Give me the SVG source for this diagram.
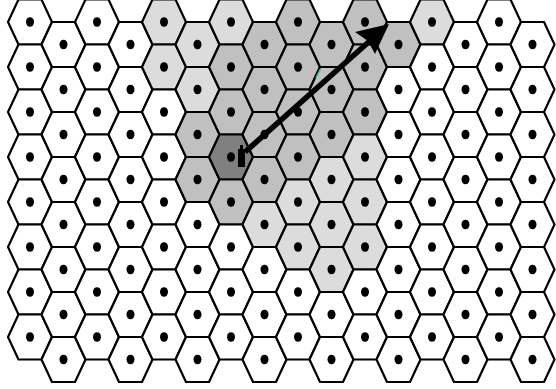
<svg xmlns="http://www.w3.org/2000/svg" xmlns:xlink="http://www.w3.org/1999/xlink" width="556" height="389" viewBox="0 0 556 389">
<style>
.w{fill:#ffffff}.l{fill:#dcdcdc}.m{fill:#c0c0c0}.d{fill:#808080}
</style>
<defs>
<polygon id="hx" points="-22,0 -11.5,-22.5 11.5,-22.5 22,0 11.5,22.5 -11.5,22.5" stroke="#000" stroke-width="2.2" stroke-linejoin="round"/>
<ellipse id="dt" rx="4" ry="4.8" fill="#000"/>
</defs>
<rect width="556" height="389" fill="#fff"/>
<g id="cells">
<g id="c0r0" class="w" transform="translate(30,22)"><use href="#hx"/><use href="#dt"/></g>
<g id="c0r1" class="w" transform="translate(30,67)"><use href="#hx"/><use href="#dt"/></g>
<g id="c0r2" class="w" transform="translate(30,112)"><use href="#hx"/><use href="#dt"/></g>
<g id="c0r3" class="w" transform="translate(30,157)"><use href="#hx"/><use href="#dt"/></g>
<g id="c0r4" class="w" transform="translate(30,202)"><use href="#hx"/><use href="#dt"/></g>
<g id="c0r5" class="w" transform="translate(30,247)"><use href="#hx"/><use href="#dt"/></g>
<g id="c0r6" class="w" transform="translate(30,292)"><use href="#hx"/><use href="#dt"/></g>
<g id="c0r7" class="w" transform="translate(30,337)"><use href="#hx"/><use href="#dt"/></g>
<g id="c1r0" class="w" transform="translate(63.5,44.5)"><use href="#hx"/><use href="#dt"/></g>
<g id="c1r1" class="w" transform="translate(63.5,89.5)"><use href="#hx"/><use href="#dt"/></g>
<g id="c1r2" class="w" transform="translate(63.5,134.5)"><use href="#hx"/><use href="#dt"/></g>
<g id="c1r3" class="w" transform="translate(63.5,179.5)"><use href="#hx"/><use href="#dt"/></g>
<g id="c1r4" class="w" transform="translate(63.5,224.5)"><use href="#hx"/><use href="#dt"/></g>
<g id="c1r5" class="w" transform="translate(63.5,269.5)"><use href="#hx"/><use href="#dt"/></g>
<g id="c1r6" class="w" transform="translate(63.5,314.5)"><use href="#hx"/><use href="#dt"/></g>
<g id="c1r7" class="w" transform="translate(63.5,359.5)"><use href="#hx"/><use href="#dt"/></g>
<g id="c2r0" class="w" transform="translate(97,22)"><use href="#hx"/><use href="#dt"/></g>
<g id="c2r1" class="w" transform="translate(97,67)"><use href="#hx"/><use href="#dt"/></g>
<g id="c2r2" class="w" transform="translate(97,112)"><use href="#hx"/><use href="#dt"/></g>
<g id="c2r3" class="w" transform="translate(97,157)"><use href="#hx"/><use href="#dt"/></g>
<g id="c2r4" class="w" transform="translate(97,202)"><use href="#hx"/><use href="#dt"/></g>
<g id="c2r5" class="w" transform="translate(97,247)"><use href="#hx"/><use href="#dt"/></g>
<g id="c2r6" class="w" transform="translate(97,292)"><use href="#hx"/><use href="#dt"/></g>
<g id="c2r7" class="w" transform="translate(97,337)"><use href="#hx"/><use href="#dt"/></g>
<g id="c3r0" class="w" transform="translate(130.5,44.5)"><use href="#hx"/><use href="#dt"/></g>
<g id="c3r1" class="w" transform="translate(130.5,89.5)"><use href="#hx"/><use href="#dt"/></g>
<g id="c3r2" class="w" transform="translate(130.5,134.5)"><use href="#hx"/><use href="#dt"/></g>
<g id="c3r3" class="w" transform="translate(130.5,179.5)"><use href="#hx"/><use href="#dt"/></g>
<g id="c3r4" class="w" transform="translate(130.5,224.5)"><use href="#hx"/><use href="#dt"/></g>
<g id="c3r5" class="w" transform="translate(130.5,269.5)"><use href="#hx"/><use href="#dt"/></g>
<g id="c3r6" class="w" transform="translate(130.5,314.5)"><use href="#hx"/><use href="#dt"/></g>
<g id="c3r7" class="w" transform="translate(130.5,359.5)"><use href="#hx"/><use href="#dt"/></g>
<g id="c4r0" class="l" transform="translate(164,22)"><use href="#hx"/><use href="#dt"/></g>
<g id="c4r1" class="l" transform="translate(164,67)"><use href="#hx"/><use href="#dt"/></g>
<g id="c4r2" class="w" transform="translate(164,112)"><use href="#hx"/><use href="#dt"/></g>
<g id="c4r3" class="w" transform="translate(164,157)"><use href="#hx"/><use href="#dt"/></g>
<g id="c4r4" class="w" transform="translate(164,202)"><use href="#hx"/><use href="#dt"/></g>
<g id="c4r5" class="w" transform="translate(164,247)"><use href="#hx"/><use href="#dt"/></g>
<g id="c4r6" class="w" transform="translate(164,292)"><use href="#hx"/><use href="#dt"/></g>
<g id="c4r7" class="w" transform="translate(164,337)"><use href="#hx"/><use href="#dt"/></g>
<g id="c5r0" class="l" transform="translate(197.5,44.5)"><use href="#hx"/><use href="#dt"/></g>
<g id="c5r1" class="l" transform="translate(197.5,89.5)"><use href="#hx"/><use href="#dt"/></g>
<g id="c5r2" class="m" transform="translate(197.5,134.5)"><use href="#hx"/><use href="#dt"/></g>
<g id="c5r3" class="m" transform="translate(197.5,179.5)"><use href="#hx"/><use href="#dt"/></g>
<g id="c5r4" class="w" transform="translate(197.5,224.5)"><use href="#hx"/><use href="#dt"/></g>
<g id="c5r5" class="w" transform="translate(197.5,269.5)"><use href="#hx"/><use href="#dt"/></g>
<g id="c5r6" class="w" transform="translate(197.5,314.5)"><use href="#hx"/><use href="#dt"/></g>
<g id="c5r7" class="w" transform="translate(197.5,359.5)"><use href="#hx"/><use href="#dt"/></g>
<g id="c6r0" class="l" transform="translate(231,22)"><use href="#hx"/><use href="#dt"/></g>
<g id="c6r1" class="m" transform="translate(231,67)"><use href="#hx"/><use href="#dt"/></g>
<g id="c6r2" class="m" transform="translate(231,112)"><use href="#hx"/><use href="#dt"/></g>
<g id="c6r3" class="d" transform="translate(231,157)"><use href="#hx"/><use href="#dt"/></g>
<g id="c6r4" class="m" transform="translate(231,202)"><use href="#hx"/><use href="#dt"/></g>
<g id="c6r5" class="w" transform="translate(231,247)"><use href="#hx"/><use href="#dt"/></g>
<g id="c6r6" class="w" transform="translate(231,292)"><use href="#hx"/><use href="#dt"/></g>
<g id="c6r7" class="w" transform="translate(231,337)"><use href="#hx"/><use href="#dt"/></g>
<g id="c7r0" class="m" transform="translate(264.5,44.5)"><use href="#hx"/><use href="#dt"/></g>
<g id="c7r1" class="m" transform="translate(264.5,89.5)"><use href="#hx"/><use href="#dt"/></g>
<g id="c7r2" class="m" transform="translate(264.5,134.5)"><use href="#hx"/><use href="#dt"/></g>
<g id="c7r3" class="m" transform="translate(264.5,179.5)"><use href="#hx"/><use href="#dt"/></g>
<g id="c7r4" class="l" transform="translate(264.5,224.5)"><use href="#hx"/><use href="#dt"/></g>
<g id="c7r5" class="w" transform="translate(264.5,269.5)"><use href="#hx"/><use href="#dt"/></g>
<g id="c7r6" class="w" transform="translate(264.5,314.5)"><use href="#hx"/><use href="#dt"/></g>
<g id="c7r7" class="w" transform="translate(264.5,359.5)"><use href="#hx"/><use href="#dt"/></g>
<g id="c8r0" class="m" transform="translate(298,22)"><use href="#hx"/><use href="#dt"/></g>
<g id="c8r1" class="m" transform="translate(298,67)"><use href="#hx"/><use href="#dt"/></g>
<g id="c8r2" class="m" transform="translate(298,112)"><use href="#hx"/><use href="#dt"/></g>
<g id="c8r3" class="m" transform="translate(298,157)"><use href="#hx"/><use href="#dt"/></g>
<g id="c8r4" class="l" transform="translate(298,202)"><use href="#hx"/><use href="#dt"/></g>
<g id="c8r5" class="l" transform="translate(298,247)"><use href="#hx"/><use href="#dt"/></g>
<g id="c8r6" class="w" transform="translate(298,292)"><use href="#hx"/><use href="#dt"/></g>
<g id="c8r7" class="w" transform="translate(298,337)"><use href="#hx"/><use href="#dt"/></g>
<g id="c9r0" class="m" transform="translate(331.5,44.5)"><use href="#hx"/><use href="#dt"/></g>
<g id="c9r1" class="m" transform="translate(331.5,89.5)"><use href="#hx"/><use href="#dt"/></g>
<g id="c9r2" class="m" transform="translate(331.5,134.5)"><use href="#hx"/><use href="#dt"/></g>
<g id="c9r3" class="l" transform="translate(331.5,179.5)"><use href="#hx"/><use href="#dt"/></g>
<g id="c9r4" class="l" transform="translate(331.5,224.5)"><use href="#hx"/><use href="#dt"/></g>
<g id="c9r5" class="l" transform="translate(331.5,269.5)"><use href="#hx"/><use href="#dt"/></g>
<g id="c9r6" class="w" transform="translate(331.5,314.5)"><use href="#hx"/><use href="#dt"/></g>
<g id="c9r7" class="w" transform="translate(331.5,359.5)"><use href="#hx"/><use href="#dt"/></g>
<g id="c10r0" class="m" transform="translate(365,22)"><use href="#hx"/><use href="#dt"/></g>
<g id="c10r1" class="m" transform="translate(365,67)"><use href="#hx"/><use href="#dt"/></g>
<g id="c10r2" class="m" transform="translate(365,112)"><use href="#hx"/><use href="#dt"/></g>
<g id="c10r3" class="l" transform="translate(365,157)"><use href="#hx"/><use href="#dt"/></g>
<g id="c10r4" class="l" transform="translate(365,202)"><use href="#hx"/><use href="#dt"/></g>
<g id="c10r5" class="l" transform="translate(365,247)"><use href="#hx"/><use href="#dt"/></g>
<g id="c10r6" class="w" transform="translate(365,292)"><use href="#hx"/><use href="#dt"/></g>
<g id="c10r7" class="w" transform="translate(365,337)"><use href="#hx"/><use href="#dt"/></g>
<g id="c11r0" class="m" transform="translate(398.5,44.5)"><use href="#hx"/><use href="#dt"/></g>
<g id="c11r1" class="w" transform="translate(398.5,89.5)"><use href="#hx"/><use href="#dt"/></g>
<g id="c11r2" class="w" transform="translate(398.5,134.5)"><use href="#hx"/><use href="#dt"/></g>
<g id="c11r3" class="w" transform="translate(398.5,179.5)"><use href="#hx"/><use href="#dt"/></g>
<g id="c11r4" class="w" transform="translate(398.5,224.5)"><use href="#hx"/><use href="#dt"/></g>
<g id="c11r5" class="w" transform="translate(398.5,269.5)"><use href="#hx"/><use href="#dt"/></g>
<g id="c11r6" class="w" transform="translate(398.5,314.5)"><use href="#hx"/><use href="#dt"/></g>
<g id="c11r7" class="w" transform="translate(398.5,359.5)"><use href="#hx"/><use href="#dt"/></g>
<g id="c12r0" class="l" transform="translate(432,22)"><use href="#hx"/><use href="#dt"/></g>
<g id="c12r1" class="w" transform="translate(432,67)"><use href="#hx"/><use href="#dt"/></g>
<g id="c12r2" class="w" transform="translate(432,112)"><use href="#hx"/><use href="#dt"/></g>
<g id="c12r3" class="w" transform="translate(432,157)"><use href="#hx"/><use href="#dt"/></g>
<g id="c12r4" class="w" transform="translate(432,202)"><use href="#hx"/><use href="#dt"/></g>
<g id="c12r5" class="w" transform="translate(432,247)"><use href="#hx"/><use href="#dt"/></g>
<g id="c12r6" class="w" transform="translate(432,292)"><use href="#hx"/><use href="#dt"/></g>
<g id="c12r7" class="w" transform="translate(432,337)"><use href="#hx"/><use href="#dt"/></g>
<g id="c13r0" class="w" transform="translate(465.5,44.5)"><use href="#hx"/><use href="#dt"/></g>
<g id="c13r1" class="w" transform="translate(465.5,89.5)"><use href="#hx"/><use href="#dt"/></g>
<g id="c13r2" class="w" transform="translate(465.5,134.5)"><use href="#hx"/><use href="#dt"/></g>
<g id="c13r3" class="w" transform="translate(465.5,179.5)"><use href="#hx"/><use href="#dt"/></g>
<g id="c13r4" class="w" transform="translate(465.5,224.5)"><use href="#hx"/><use href="#dt"/></g>
<g id="c13r5" class="w" transform="translate(465.5,269.5)"><use href="#hx"/><use href="#dt"/></g>
<g id="c13r6" class="w" transform="translate(465.5,314.5)"><use href="#hx"/><use href="#dt"/></g>
<g id="c13r7" class="w" transform="translate(465.5,359.5)"><use href="#hx"/><use href="#dt"/></g>
<g id="c14r0" class="w" transform="translate(499,22)"><use href="#hx"/><use href="#dt"/></g>
<g id="c14r1" class="w" transform="translate(499,67)"><use href="#hx"/><use href="#dt"/></g>
<g id="c14r2" class="w" transform="translate(499,112)"><use href="#hx"/><use href="#dt"/></g>
<g id="c14r3" class="w" transform="translate(499,157)"><use href="#hx"/><use href="#dt"/></g>
<g id="c14r4" class="w" transform="translate(499,202)"><use href="#hx"/><use href="#dt"/></g>
<g id="c14r5" class="w" transform="translate(499,247)"><use href="#hx"/><use href="#dt"/></g>
<g id="c14r6" class="w" transform="translate(499,292)"><use href="#hx"/><use href="#dt"/></g>
<g id="c14r7" class="w" transform="translate(499,337)"><use href="#hx"/><use href="#dt"/></g>
<g id="c15r0" class="w" transform="translate(532.5,44.5)"><use href="#hx"/><use href="#dt"/></g>
<g id="c15r1" class="w" transform="translate(532.5,89.5)"><use href="#hx"/><use href="#dt"/></g>
<g id="c15r2" class="w" transform="translate(532.5,134.5)"><use href="#hx"/><use href="#dt"/></g>
<g id="c15r3" class="w" transform="translate(532.5,179.5)"><use href="#hx"/><use href="#dt"/></g>
<g id="c15r4" class="w" transform="translate(532.5,224.5)"><use href="#hx"/><use href="#dt"/></g>
<g id="c15r5" class="w" transform="translate(532.5,269.5)"><use href="#hx"/><use href="#dt"/></g>
<g id="c15r6" class="w" transform="translate(532.5,314.5)"><use href="#hx"/><use href="#dt"/></g>
<g id="c15r7" class="w" transform="translate(532.5,359.5)"><use href="#hx"/><use href="#dt"/></g>
</g>
<g id="connectors">
<line x1="316" y1="78" x2="320.5" y2="69" stroke="#2fd0a8" stroke-width="1.5"/>
<line x1="245" y1="152" x2="372" y2="39" stroke="#000" stroke-width="5.5"/>
<polygon points="389,24 355,32 368,41 375,54" fill="#000"/>
<rect x="238" y="149" width="7" height="18" fill="#000"/>
<rect x="240" y="145" width="3" height="5" fill="#000"/>
</g>
</svg>
